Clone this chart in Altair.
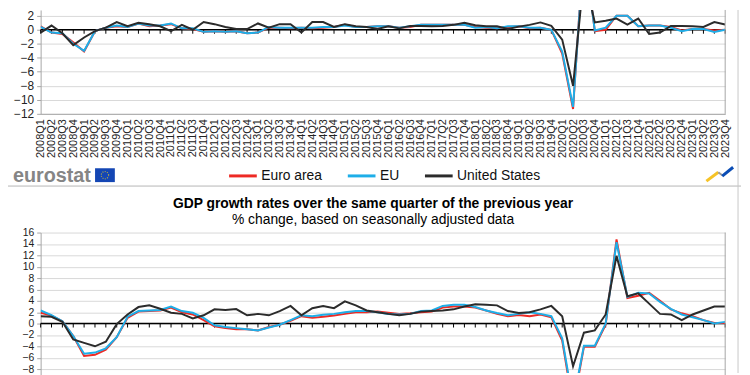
import altair as alt
import pandas as pd

years = list(range(2008, 2024))
quarters = [f"{y}Q{q}" for y in years for q in (1, 2, 3, 4)]
series_names = ["Euro area", "EU", "United States"]
series_colors = ["#EE2A24", "#1EAEE8", "#2B2B2B"]

# quarter-on-quarter growth (% change)
qoq_ea = [0.5, -0.4, -0.6, -1.8, -3.1, -0.2, 0.3, 0.5, 0.4, 0.9, 0.5, 0.6,
          0.8, 0.2, 0.1, -0.3, -0.2, -0.3, -0.2, -0.5, -0.4, 0.3, 0.3, 0.2,
          0.3, 0.2, 0.3, 0.4, 0.7, 0.4, 0.4, 0.5, 0.5, 0.3, 0.4, 0.7,
          0.7, 0.7, 0.7, 0.7, 0.4, 0.3, 0.2, 0.4, 0.5, 0.2, 0.3, 0.0,
          -3.4, -11.3, 12.4, -0.2, 0.0, 2.0, 2.0, 0.5, 0.6, 0.6, 0.4, -0.1,
          0.1, 0.1, -0.1, 0.0]
qoq_eu = [0.4, -0.4, -0.5, -2.0, -3.0, -0.2, 0.3, 0.6, 0.4, 0.9, 0.6, 0.6,
          0.9, 0.2, 0.2, -0.3, -0.2, -0.3, -0.2, -0.5, -0.4, 0.4, 0.3, 0.3,
          0.3, 0.3, 0.4, 0.4, 0.6, 0.4, 0.4, 0.5, 0.5, 0.3, 0.5, 0.7,
          0.7, 0.7, 0.7, 0.7, 0.3, 0.4, 0.2, 0.5, 0.5, 0.3, 0.3, 0.0,
          -3.1, -11.0, 11.7, -0.1, 0.3, 2.0, 2.0, 0.5, 0.6, 0.6, 0.3, -0.2,
          0.1, 0.1, -0.3, 0.0]
qoq_us = [-0.4, 0.6, -0.5, -2.2, -1.1, -0.2, 0.3, 1.1, 0.5, 1.0, 0.8, 0.5,
          -0.2, 0.7, 0.0, 1.1, 0.8, 0.4, 0.1, 0.1, 0.9, 0.3, 0.8, 0.8,
          -0.4, 1.1, 1.1, 0.4, 0.8, 0.5, 0.4, 0.1, 0.5, 0.2, 0.55, 0.55,
          0.5, 0.55, 0.7, 1.0, 0.65, 0.5, 0.5, 0.1, 0.45, 0.7, 1.05, 0.55,
          -1.4, -8.0, 7.8, 1.05, 1.3, 1.6, 0.75, 1.6, -0.6, -0.4, 0.55, 0.55,
          0.5, 0.4, 1.1, 0.75]

# growth over the same quarter of the previous year (% change)
yoy_ea = [1.9, 1.4, 0.4, -2.2, -5.7, -5.5, -4.6, -2.4, 1.0, 2.1, 2.2, 2.3,
          2.8, 2.0, 1.6, 0.6, -0.5, -0.8, -1.0, -1.0, -1.2, -0.6, -0.2, 0.5,
          1.3, 1.0, 1.2, 1.4, 1.7, 2.0, 2.0, 2.1, 1.9, 1.7, 1.8, 2.0,
          2.1, 2.8, 3.0, 3.0, 2.8, 2.3, 1.7, 1.3, 1.5, 1.3, 1.6, 1.1,
          -3.0, -14.5, -4.1, -4.1, -0.2, 14.8, 4.5, 4.9, 5.4, 4.0, 2.5, 1.8,
          1.3, 0.6, 0.1, 0.1]
yoy_eu = [2.3, 1.5, 0.4, -2.2, -5.3, -5.1, -4.35, -2.4, 1.2, 2.2, 2.3, 2.4,
          3.0, 2.2, 1.9, 1.0, -0.3, -0.6, -0.8, -1.0, -1.2, -0.7, -0.2, 0.6,
          1.45, 1.3, 1.55, 1.7, 2.0, 2.2, 2.2, 2.0, 1.7, 1.6, 1.7, 2.2,
          2.3, 3.1, 3.3, 3.3, 2.9, 2.3, 1.85, 1.45, 1.7, 2.0, 1.7, 1.3,
          -2.6, -13.8, -3.9, -3.9, 0.0, 14.3, 4.7, 5.4, 5.3, 3.8, 2.6, 1.6,
          1.1, 0.6, 0.0, 0.3]
yoy_us = [1.3, 1.2, 0.3, -2.8, -3.4, -4.0, -3.2, -0.1, 1.6, 2.9, 3.2, 2.6,
          1.9, 1.7, 0.9, 1.45, 2.5, 2.4, 2.55, 1.45, 1.7, 1.45, 2.2, 3.1,
          1.45, 2.7, 3.1, 2.7, 3.9, 3.2, 2.3, 2.0, 1.7, 1.45, 1.7, 2.1,
          2.2, 2.3, 2.5, 3.0, 3.4, 3.3, 3.2, 2.2, 1.85, 2.0, 2.5, 3.1,
          1.3, -7.5, -1.6, -1.2, 1.6, 11.9, 4.8, 5.3, 3.5, 1.7, 1.6, 0.6,
          1.6, 2.3, 3.0, 3.0]

title_text = "GDP growth rates over the same quarter of the previous year"
subtitle_text = "% change, based on seasonally adjusted data"

FONT = "Liberation Sans"
W, H = 692, 367


def long_frame(a, b, c):
    rows = []
    for name, vals in zip(series_names, (a, b, c)):
        for q, v in zip(quarters, vals):
            rows.append({"q": q, "series": name, "value": v})
    return pd.DataFrame(rows)


df_top = long_frame(qoq_ea, qoq_eu, qoq_us)
df_bot = long_frame(yoy_ea, yoy_eu, yoy_us)
df_q = pd.DataFrame({"q": quarters})

x_enc = alt.X(
    "q:O",
    scale=alt.Scale(type="point", padding=0),
    axis=alt.Axis(
        orient="bottom", offset=-(H - 105), labelAngle=-90, labelFontSize=11,
        labelFont=FONT, labelColor="#222", labelPadding=5, labelOverlap=False,
        ticks=False, domainColor="#a6a6a6", grid=False, title=None,
    ),
)

color_enc = alt.Color(
    "series:N",
    scale=alt.Scale(domain=series_names, range=series_colors),
    legend=alt.Legend(
        orient="none", legendX=189, legendY=152, direction="horizontal",
        title=None, symbolType="stroke", symbolSize=784, symbolStrokeWidth=3,
        labelFontSize=14, labelFont=FONT, labelColor="#111", labelOffset=3,
        columnPadding=19, padding=0,
    ),
)


def y_axis(vals, size):
    return alt.Axis(
        values=vals, orient="left", grid=True, gridColor="#d9d9d9",
        domainColor="#a6a6a6", tickColor="#a6a6a6", tickSize=4,
        labelFontSize=size, labelFont=FONT, labelColor="#222", labelPadding=3,
        labelOverlap=False, title=None,
    )


def panel(df, scale, axis):
    layers = []
    # zero line
    layers.append(
        alt.Chart(df_q.head(1)).mark_rule(color="#000", strokeWidth=1.5).encode(
            y=alt.YDatum(0, scale=scale, axis=axis)
        )
    )
    # small ticks under the zero line
    layers.append(
        alt.Chart(df_q).mark_rule(color="#000", strokeWidth=1, y2Offset=4).encode(
            x=x_enc,
            y=alt.YDatum(0, scale=scale, axis=axis),
            y2=alt.Y2Datum(0),
        )
    )
    for s in series_names:
        layers.append(
            alt.Chart(df).transform_filter(alt.datum.series == s)
            .mark_line(strokeWidth=2, clip=True)
            .encode(
                x=x_enc,
                y=alt.Y("value:Q", scale=scale, axis=axis),
                color=color_enc,
            )
        )
    return alt.layer(*layers)


top_scale = alt.Scale(domain=[-12, 2.8235], range=[105, 0], nice=False, zero=False)
bot_scale = alt.Scale(domain=[-16, 16], range=[409, 225], nice=False, zero=False)

top = panel(df_top, top_scale, y_axis(list(range(-12, 3, 2)), 12))
bot = panel(df_bot, bot_scale, y_axis(list(range(-8, 17, 2)), 10.5))

one = pd.DataFrame({"t": [""]})


def txt(text, x, y, size, weight="normal", color="#000", align="center", baseline="middle"):
    return alt.Chart(pd.DataFrame({"t": [text]})).mark_text(
        fontSize=size, fontWeight=weight, color=color, align=align,
        baseline=baseline, font=FONT,
    ).encode(text="t:N", x=alt.value(x), y=alt.value(y))


def seg(x, y, x2, y2, color, width=1.0):
    return alt.Chart(one).mark_rule(color=color, strokeWidth=width, strokeCap="butt").encode(
        x=alt.value(x), y=alt.value(y), x2=alt.value(x2), y2=alt.value(y2)
    )


deco = alt.layer(
    # plot frames (right edges)
    seg(692, 0, 692, 105, "#a6a6a6"),
    seg(692, 225, 692, 409, "#a6a6a6"),
    # separator and outer border
    seg(-39, 178, 708, 178, "#b5b5b5"),
    seg(705, 0, 705, 367, "#c8c8c8"),
    # eurostat logo
    txt("eurostat", -28, 174, 20, "bold", "#858585", "left", "alphabetic"),
    alt.Chart(one).mark_rect(color="#1446B4").encode(
        x=alt.value(55), x2=alt.value(75), y=alt.value(160), y2=alt.value(174)
    ),
    alt.Chart(one).mark_point(
        shape="circle", size=55, filled=False, color="#F2D21B", strokeWidth=1.2,
        strokeDash=[1, 1.4]
    ).encode(x=alt.value(65), y=alt.value(167)),
    # small logo on the right
    seg(673, 173, 685, 164, "#F6C327", 3),
    seg(685, 164, 689, 167, "#9a9a9a", 2),
    seg(689, 168, 700, 159, "#0B4DB5", 3),
    # title of the second chart
    txt(title_text, 336, 196, 14, "bold"),
    txt(subtitle_text, 336, 212, 14),
)

chart = (
    alt.layer(top, bot, deco)
    .resolve_scale(y="independent")
    .properties(
        width=W, height=H,
        autosize=alt.AutoSizeParams(type="none"),
        padding={"left": 33, "top": 0, "right": 17, "bottom": 0},
        background="white",
    )
    .configure_view(stroke=None)
)

chart.save("out.html", embed_options={"renderer": "svg", "actions": False})
